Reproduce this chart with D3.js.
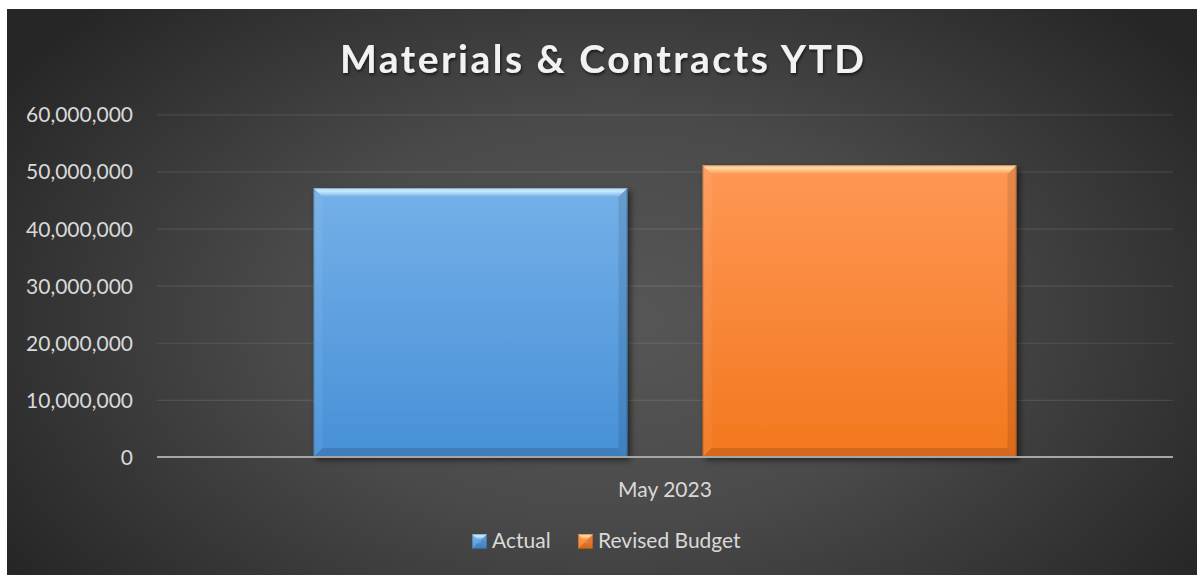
<!DOCTYPE html>
<html>
<head>
<meta charset="utf-8">
<script src="https://cdn.jsdelivr.net/npm/d3@7"></script>
<style>
  html, body { margin: 0; padding: 0; background: #ffffff; }
  svg { display: block; }
</style>
</head>
<body>
<div id="chart"></div>
<script>
// Chart data
const categories = ["May 2023"];
const seriesNames = ["Actual", "Revised Budget"];
const actualValues = [47100000];
const budgetValues = [51100000];
const yTickValues = [0, 10000000, 20000000, 30000000, 40000000, 50000000, 60000000];
const chartTitle = "Materials & Contracts YTD";

const seriesValues = [actualValues, budgetValues];
const rows = categories.map((c, i) => ({
  category: c,
  values: seriesNames.map((s, j) => ({ series: s, value: seriesValues[j][i] }))
}));

const W = 1197, H = 575;
const frame = { x: 7, y: 9, w: W - 7, h: H - 9 };
const plot = { left: 157, right: 1173, top: 114.3, bottom: 457 };

const colors = {
  "Actual": { top: "#74b0e8", bottom: "#4790d7", hi: "#d2f2ff" },
  "Revised Budget": { top: "#fe9855", bottom: "#f3771e", hi: "#ffe0aa" }
};

const svg = d3.select("#chart").append("svg")
  .attr("width", W).attr("height", H);

const defs = svg.append("defs");

// background radial gradient
const bg = defs.append("radialGradient").attr("id", "bgGrad")
  .attr("gradientUnits", "userSpaceOnUse")
  .attr("cx", 610).attr("cy", 320).attr("r", 720)
  .attr("gradientTransform", "translate(610,320) scale(1,0.62) translate(-610,-320)");
bg.append("stop").attr("offset", "0%").attr("stop-color", "#575757");
bg.append("stop").attr("offset", "45%").attr("stop-color", "#4a4a4a");
bg.append("stop").attr("offset", "100%").attr("stop-color", "#262626");

// bar body gradients
seriesNames.forEach((s, i) => {
  const g = defs.append("linearGradient").attr("id", "barGrad" + i)
    .attr("x1", 0).attr("y1", 0).attr("x2", 0).attr("y2", 1);
  g.append("stop").attr("offset", "0%").attr("stop-color", colors[s].top);
  g.append("stop").attr("offset", "100%").attr("stop-color", colors[s].bottom);
  const h = defs.append("linearGradient").attr("id", "hiGrad" + i)
    .attr("x1", 0).attr("y1", 0).attr("x2", 0).attr("y2", 1);
  h.append("stop").attr("offset", "0%").attr("stop-color", colors[s].hi).attr("stop-opacity", 0.55);
  h.append("stop").attr("offset", "35%").attr("stop-color", colors[s].hi).attr("stop-opacity", 0.9);
  h.append("stop").attr("offset", "100%").attr("stop-color", colors[s].hi).attr("stop-opacity", 0.0);
});

const shadow = defs.append("filter").attr("id", "barShadow")
  .attr("x", "-10%").attr("y", "-10%").attr("width", "130%").attr("height", "130%");
shadow.append("feDropShadow").attr("dx", 3).attr("dy", 3).attr("stdDeviation", 3)
  .attr("flood-color", "#000").attr("flood-opacity", 0.55);

const titleShadow = defs.append("filter").attr("id", "textShadow")
  .attr("x", "-5%").attr("y", "-20%").attr("width", "110%").attr("height", "150%");
titleShadow.append("feDropShadow").attr("dx", 1).attr("dy", 2).attr("stdDeviation", 1.5)
  .attr("flood-color", "#000").attr("flood-opacity", 0.6);

// background
svg.append("rect")
  .attr("x", frame.x).attr("y", frame.y)
  .attr("width", frame.w).attr("height", frame.h)
  .attr("fill", "url(#bgGrad)");

// scales
const y = d3.scaleLinear().domain([0, 60000000]).range([plot.bottom, plot.top]);
const x0 = d3.scaleBand().domain(categories)
  .range([plot.left, plot.right]).paddingInner(0).paddingOuter(0.2226);
const x1 = d3.scaleBand().domain(seriesNames)
  .range([0, x0.bandwidth()]).paddingInner(0.193).paddingOuter(0);

// gridlines
const grid = svg.append("g")
  .attr("transform", `translate(${plot.left},0)`)
  .call(d3.axisLeft(y).tickValues(yTickValues.filter(v => v > 0))
    .tickSize(-(plot.right - plot.left)).tickFormat(""));
grid.select(".domain").remove();
grid.selectAll(".tick line").attr("stroke", "#ffffff").attr("stroke-opacity", 0.1).attr("stroke-width", 1.2);

// y tick labels
const yAxis = svg.append("g")
  .attr("transform", `translate(133,0)`)
  .call(d3.axisLeft(y).tickValues(yTickValues).tickSize(0).tickPadding(0).tickFormat(d3.format(",")));
yAxis.select(".domain").remove();
yAxis.selectAll(".tick text")
  .attr("fill", "#d9d9d9")
  .attr("font-family", "Lato, 'Open Sans', sans-serif")
  .attr("font-size", 21)
  .attr("dy", "0.36em");

// bars with bevelled faces
function bevelFaces(g, bx, by, bw, bh, b, idx) {
  g.append("rect").attr("x", bx).attr("y", by).attr("width", bw).attr("height", bh)
    .attr("fill", `url(#barGrad${idx})`);
  const pts = a => a.map(p => p.join(",")).join(" ");
  // left face
  g.append("polygon").attr("points", pts([[bx, by], [bx + b, by + b], [bx + b, by + bh - b], [bx, by + bh]]))
    .attr("fill", "#ffffff").attr("fill-opacity", 0.06);
  // right face
  g.append("polygon").attr("points", pts([[bx + bw, by], [bx + bw - b, by + b], [bx + bw - b, by + bh - b], [bx + bw, by + bh]]))
    .attr("fill", "#000000").attr("fill-opacity", 0.1);
  // bottom face
  g.append("polygon").attr("points", pts([[bx, by + bh], [bx + b, by + bh - b], [bx + bw - b, by + bh - b], [bx + bw, by + bh]]))
    .attr("fill", "#000000").attr("fill-opacity", 0.12);
  // top face highlight
  g.append("polygon").attr("points", pts([[bx, by], [bx + bw, by], [bx + bw - b, by + b], [bx + b, by + b]]))
    .attr("fill", `url(#hiGrad${idx})`);
  // edge line
  g.append("rect").attr("x", bx + 0.5).attr("y", by + 0.5).attr("width", bw - 1).attr("height", bh - 1)
    .attr("fill", "none").attr("stroke", "#000").attr("stroke-opacity", 0.18);
}

const groups = svg.append("g").selectAll("g.cat").data(rows).join("g")
  .attr("class", "cat")
  .attr("transform", d => `translate(${x0(d.category)},0)`);

groups.selectAll("g.bar").data(d => d.values).join("g")
  .attr("class", "bar")
  .attr("filter", "url(#barShadow)")
  .each(function (d) {
    const idx = seriesNames.indexOf(d.series);
    const bx = x1(d.series), by = y(d.value);
    bevelFaces(d3.select(this), bx, by, x1.bandwidth(), y(0) - by, 9, idx);
  });

// baseline
svg.append("line")
  .attr("x1", plot.left).attr("x2", plot.right)
  .attr("y1", y(0)).attr("y2", y(0))
  .attr("stroke", "#a6a6a6").attr("stroke-width", 2);

// category axis labels
const xAxis = svg.append("g")
  .attr("transform", `translate(0,${plot.bottom})`)
  .call(d3.axisBottom(x0).tickSize(0).tickPadding(0));
xAxis.select(".domain").remove();
xAxis.selectAll(".tick text")
  .attr("y", 40)
  .attr("dy", 0)
  .attr("fill", "#d9d9d9")
  .attr("font-family", "Lato, 'Open Sans', sans-serif")
  .attr("font-size", 21);

// title
const title = svg.append("text")
  .attr("x", frame.x + frame.w / 2)
  .attr("y", 73)
  .attr("text-anchor", "middle")
  .attr("fill", "#f2f2f2")
  .attr("font-family", "Lato, 'Open Sans', sans-serif")
  .attr("font-weight", "bold")
  .attr("font-size", 39)
  .attr("filter", "url(#textShadow)")
  .text(chartTitle);
const tLen = title.node().getComputedTextLength();
const ls = (524 - tLen) / (chartTitle.length - 1);
title.attr("letter-spacing", ls).attr("x", frame.x + frame.w / 2 + ls / 2);

// legend
const legend = svg.append("g");
const legendItems = [
  { name: seriesNames[0], x: 472 },
  { name: seriesNames[1], x: 578 }
];
legendItems.forEach((it, i) => {
  const g = legend.append("g");
  bevelFaces(g, it.x, 534, 15, 15, 6, i);
  g.append("text")
    .attr("x", it.x + 20).attr("y", 548)
    .attr("fill", "#d9d9d9")
    .attr("font-family", "Lato, 'Open Sans', sans-serif")
    .attr("font-size", 21)
    .text(it.name);
});
</script>
</body>
</html>
